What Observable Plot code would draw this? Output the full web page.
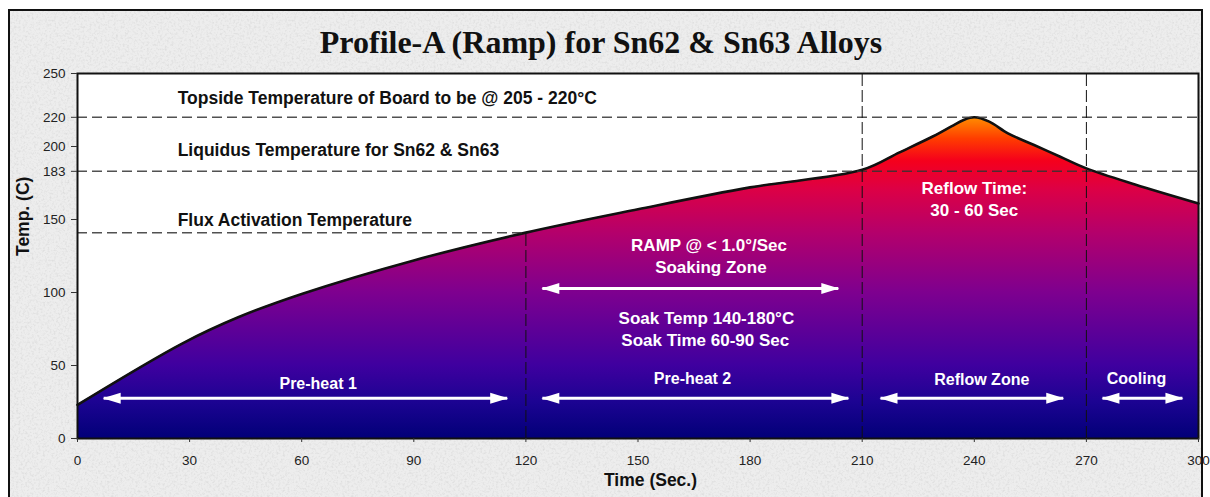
<!DOCTYPE html>
<html>
<head>
<meta charset="utf-8">
<script src="https://cdn.jsdelivr.net/npm/d3@7"></script>
<script src="https://cdn.jsdelivr.net/npm/@observablehq/plot@0.6"></script>
<style>
  html, body { margin: 0; padding: 0; background: #fff; }
  #wrap { position: relative; width: 1210px; height: 497px; overflow: hidden; }
  #panel { position: absolute; left: 8px; top: 9px; width: 1195px; height: 520px; box-sizing: border-box;
           border: 2px solid #111; background-color: #ededed; }
  #title { position: absolute; left: 0; top: 26px; width: 1202px; text-align: center;
           font: bold 32px "Liberation Serif", "Times New Roman", serif; line-height: 32px; color: #111; }
  #chart { position: absolute; left: 0; top: 58px; }
</style>
</head>
<body>
<div id="wrap">
  <div id="panel"></div>
  <div id="title">Profile-A (Ramp) for Sn62 &amp; Sn63 Alloys</div>
  <div id="chart"></div>
</div>
<script>
// ---- data ----
const time = [0, 28, 43, 60, 90, 120, 150, 180, 210, 220, 229, 234, 237, 240, 244, 249, 256, 263, 270, 283, 300];
const temp = [23, 65, 83, 99, 122, 141, 157, 172, 184, 196, 207, 214, 218, 220, 217, 209, 201, 193, 185, 174, 161];

const xTicks = [0, 30, 60, 90, 120, 150, 180, 210, 240, 270, 300];
const yTicks = [0, 50, 100, 150, 183, 200, 220, 250];

const refTemps = [220, 183, 141];          // topside, liquidus, flux activation
const refEnd = [300, 300, 120];            // time at which each reference line ends
const zoneBounds = [210, 270];             // full-height dashed verticals
const preheatEnd = 120;                    // vertical from 0 up to profile

const noteText = ["Topside Temperature of Board to be @ 205 - 220°C", "Liquidus Temperature for Sn62 & Sn63", "Flux Activation Temperature"];
const noteX = [26.8, 26.8, 26.8];
const noteY = [233, 197, 149.3];

const whiteText = ["RAMP @ < 1.0°/Sec", "Soaking Zone", "Soak Temp 140-180°C", "Soak Time 60-90 Sec", "Reflow Time:", "30 - 60 Sec"];
const whiteX = [169, 169.5, 168.3, 168, 240, 240];
const whiteY = [132, 117, 82, 67, 171, 156];

const zoneText = ["Pre-heat 1", "Pre-heat 2", "Reflow Zone", "Cooling"];
const zoneX = [64.4, 164.6, 242, 283.4];
const zoneY = [37.7, 40.5, 40.4, 41];

const arrowStart = [7, 124.4, 124.4, 214.9, 274.3];
const arrowEnd = [115, 206.3, 203.6, 263.8, 295.7];
const arrowLevel = [27.5, 27.5, 102.7, 27.5, 27.5];

const gradTemps = [0, 25, 50, 100, 140, 170, 190, 205, 220];
const gradColors = ["#020078", "#1c0392", "#3f009f", "#7e008f", "#b3006c", "#dc0046", "#f5001c", "#ff3c00", "#ff8f00"];

// ---- tables ----
const profile = time.map((t, i) => ({t, temp: temp[i]}));
const refs = refTemps.map((v, i) => ({v, end: refEnd[i]}));
const notes = noteText.map((s, i) => ({s, x: noteX[i], y: noteY[i]}));
const whites = whiteText.map((s, i) => ({s, x: whiteX[i], y: whiteY[i]}));
const zones = zoneText.map((s, i) => ({s, x: zoneX[i], y: zoneY[i]}));
const arrows = arrowStart.map((a, i) => ({a, b: arrowEnd[i], y: arrowLevel[i]}));
const preheatTop = temp[time.indexOf(preheatEnd)];

const headRight = {draw(c) { c.moveTo(1, 0); c.lineTo(-17, -5.5); c.lineTo(-17, 5.5); c.closePath(); }};
const headLeft = {draw(c) { c.moveTo(-1, 0); c.lineTo(17, -5.5); c.lineTo(17, 5.5); c.closePath(); }};

const gradient = (index, scales) => {
  const defs = d3.create("svg:defs");
  const y0 = scales.y(gradTemps[0]), y1 = scales.y(gradTemps[gradTemps.length - 1]);
  const lg = defs.append("linearGradient").attr("id", "heat").attr("gradientUnits", "userSpaceOnUse")
    .attr("x1", 0).attr("x2", 0).attr("y1", y0).attr("y2", y1);
  const span = gradTemps[gradTemps.length - 1] - gradTemps[0];
  gradTemps.forEach((t, i) => lg.append("stop").attr("offset", (t - gradTemps[0]) / span).attr("stop-color", gradColors[i]));
  return defs.node();
};

const sans = "'Liberation Sans', Arial, sans-serif";
const curve = "catmull-rom";

const chart = Plot.plot({
  width: 1210,
  height: 439,
  marginLeft: 77,
  marginRight: 12,
  marginTop: 15,
  marginBottom: 59,
  style: {background: "transparent", fontFamily: sans, fontSize: "13.5px", color: "#222", overflow: "visible"},
  x: {domain: [0, 300], ticks: xTicks, label: null},
  y: {domain: [0, 250], ticks: yTicks, label: null},
  marks: [
    Plot.frame({fill: "white", stroke: null}),
    gradient,
    Plot.areaY(profile, {x: "t", y: "temp", fill: "url(#heat)", curve}),
    Plot.lineY(profile, {x: "t", y: "temp", stroke: "#111", strokeWidth: 2.6, curve}),
    Plot.ruleY(refs, {y: "v", x1: 0, x2: "end", stroke: "#333", strokeOpacity: 0.85, strokeWidth: 1.5, strokeDasharray: "10,5"}),
    Plot.ruleX(zoneBounds, {y1: 0, y2: 250, stroke: "#111", strokeWidth: 1, strokeDasharray: "12,4"}),
    Plot.ruleX([preheatEnd], {y1: 0, y2: preheatTop, stroke: "#111", strokeWidth: 1, strokeDasharray: "12,4"}),
    Plot.link(arrows, {x1: "a", x2: "b", y1: "y", y2: "y", stroke: "white", strokeWidth: 3}),
    Plot.dot(arrows, {x: "a", y: "y", symbol: headLeft, fill: "white", stroke: null, r: 6}),
    Plot.dot(arrows, {x: "b", y: "y", symbol: headRight, fill: "white", stroke: null, r: 6}),
    Plot.text(notes, {x: "x", y: "y", text: "s", textAnchor: "start", fill: "#111", fontWeight: "bold", fontSize: 17.5}),
    Plot.text(whites, {x: "x", y: "y", text: "s", fill: "white", fontWeight: "bold", fontSize: 17}),
    Plot.text(zones, {x: "x", y: "y", text: "s", fill: "white", fontWeight: "bold", fontSize: 16}),
    Plot.frame({stroke: "#111", strokeWidth: 2}),
    Plot.axisX({ticks: xTicks, tickSize: 4, tickPadding: 13, label: null, stroke: "#333"}),
    Plot.axisY({ticks: yTicks, tickSize: 6, tickPadding: 6, label: null, stroke: "#333"}),
    Plot.text(["Time (Sec.)"], {frameAnchor: "bottom", dx: 12.5, dy: 47, fill: "#111", fontWeight: "bold", fontSize: 17.5}),
    Plot.text(["Temp. (C)"], {frameAnchor: "left", dx: -54, rotate: -90, fill: "#111", fontWeight: "bold", fontSize: 17.5})
  ]
});
document.getElementById("chart").appendChild(chart);

// subtle granite texture for the panel background
const noise = "<svg xmlns='http://www.w3.org/2000/svg' width='240' height='240'><filter id='n'><feTurbulence type='fractalNoise' baseFrequency='0.45' numOctaves='3' stitchTiles='stitch'/><feColorMatrix values='0 0 0 0 0.6 0 0 0 0 0.6 0 0 0 0 0.6 0 0 0 1.1 -0.5'/></filter><rect width='100%' height='100%' filter='url(%23n)'/></svg>";
document.getElementById("panel").style.backgroundImage = "url(\"data:image/svg+xml;utf8," + noise.replace(/#/g, "%23").replace(/</g, "%3C").replace(/>/g, "%3E") + "\")";
</script>
</body>
</html>
